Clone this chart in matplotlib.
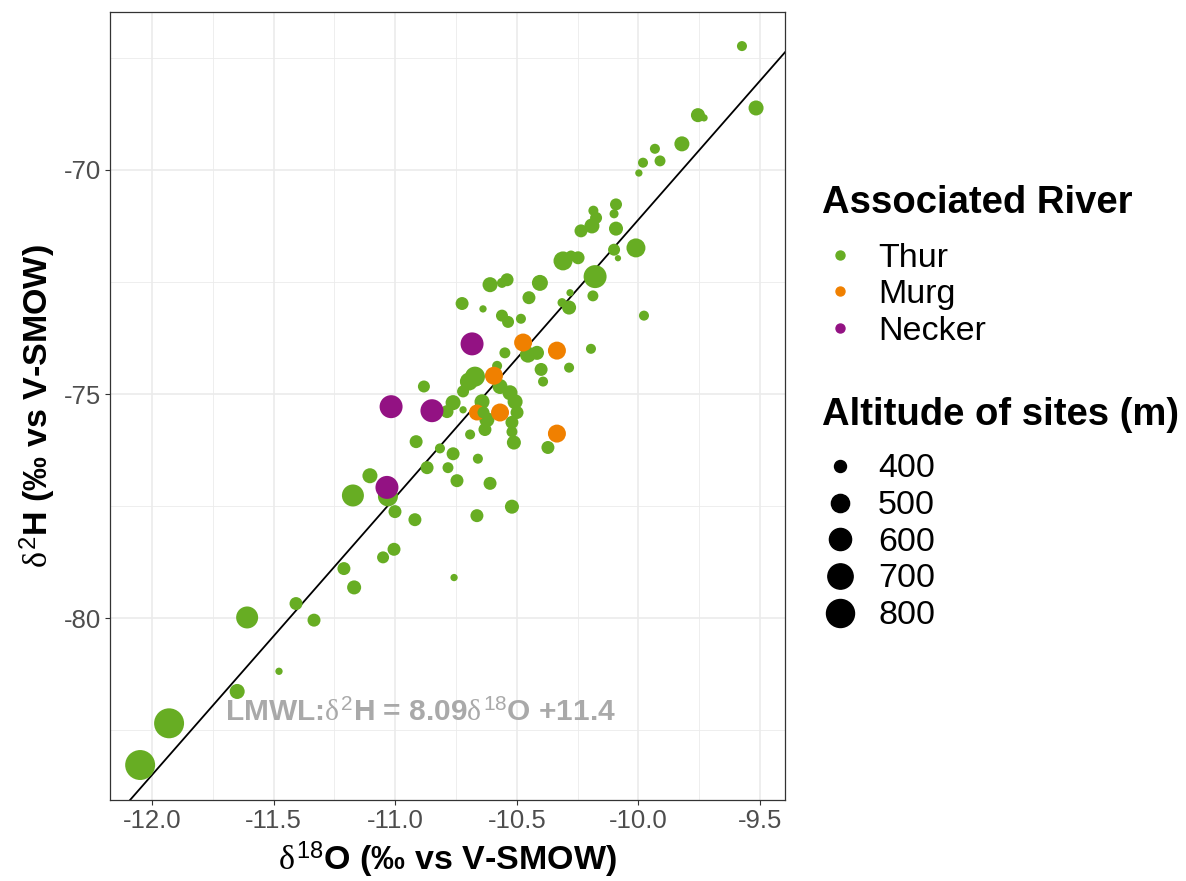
import numpy as np
import matplotlib
matplotlib.use("Agg")
import matplotlib.pyplot as plt
from matplotlib.lines import Line2D

plt.rcParams['font.family'] = ['Liberation Sans', 'DejaVu Sans']
plt.rcParams['axes.unicode_minus'] = False
plt.rcParams['mathtext.fontset'] = 'custom'
plt.rcParams['mathtext.rm'] = 'Liberation Sans'
plt.rcParams['mathtext.it'] = 'Liberation Serif'
plt.rcParams['mathtext.bf'] = 'Liberation Sans:bold'

# isotope data per site: d18O, d2H (permil vs V-SMOW), altitude (m)
thur_d18O = [-9.574, -9.516, -9.755, -9.730, -9.932, -9.821, -9.981, -9.911, -9.998, -10.092,
             -10.100, -10.185, -10.174, -10.191, -10.236, -10.092, -10.010, -10.100, -10.084, -10.310,
             -10.277, -10.248, -10.178, -10.187, -10.405, -10.540, -10.561, -10.610, -10.450, -10.281,
             -10.314, -10.285, -10.725, -10.639, -10.561, -10.536, -10.483, -9.977, -10.195, -10.549,
             -10.454, -10.417, -10.400, -10.392, -10.285, -10.581, -10.672, -10.697, -10.569, -10.882,
             -10.721, -10.762, -10.787, -10.721, -10.643, -10.528, -10.507, -10.499, -10.520, -10.623,
             -10.631, -10.520, -10.512, -10.692, -10.816, -10.762, -10.660, -10.372, -10.914, -10.869,
             -10.783, -10.746, -10.610, -10.520, -10.664, -11.104, -11.174, -11.030, -11.001, -10.919,
             -11.005, -11.050, -11.211, -11.169, -11.408, -11.334, -11.609, -11.478, -11.650, -11.930,
             -12.049, -10.758]
thur_d2H = [-67.24, -68.62, -68.78, -68.84, -69.53, -69.42, -69.84, -69.80, -70.07, -70.77,
            -70.98, -70.91, -71.07, -71.25, -71.36, -71.31, -71.74, -71.78, -71.97, -72.03,
            -71.92, -71.96, -72.38, -72.81, -72.52, -72.45, -72.52, -72.56, -72.85, -72.74,
            -72.96, -73.07, -72.98, -73.10, -73.25, -73.39, -73.32, -73.25, -73.99, -74.08,
            -74.12, -74.08, -74.45, -74.72, -74.41, -74.37, -74.61, -74.72, -74.83, -74.83,
            -74.94, -75.19, -75.39, -75.35, -75.17, -74.97, -75.17, -75.41, -75.63, -75.57,
            -75.79, -75.84, -76.08, -75.90, -76.21, -76.33, -76.44, -76.19, -76.06, -76.64,
            -76.64, -76.93, -76.99, -77.51, -77.71, -76.82, -77.26, -77.28, -77.62, -77.80,
            -78.46, -78.64, -78.89, -79.31, -79.67, -80.04, -79.98, -81.18, -81.63, -82.34,
            -83.27, -79.09]
thur_alt = [383, 440, 425, 371, 383, 440, 383, 390, 371, 400,
            377, 383, 400, 440, 411, 425, 517, 400, 370, 517,
            390, 411, 624, 390, 456, 411, 383, 440, 411, 371,
            377, 425, 411, 371, 400, 400, 383, 383, 383, 390,
            456, 425, 411, 383, 383, 383, 541, 495, 440, 400,
            400, 440, 411, 371, 440, 440, 440, 411, 411, 440,
            411, 390, 425, 383, 383, 411, 383, 411, 411, 411,
            390, 411, 411, 425, 411, 440, 595, 541, 411, 411,
            411, 400, 411, 425, 411, 411, 595, 371, 440, 880,
            880, 371]

murg_d18O = [-10.474, -10.335, -10.594, -10.664, -10.569, -10.335]
murg_d2H = [-73.85, -74.03, -74.59, -75.41, -75.41, -75.88]
murg_alt = [495, 495, 495, 456, 495, 495]

# one Thur site sampled after the Murg sites
late_thur_d18O = [-10.639]
late_thur_d2H = [-75.39]
late_thur_alt = [400]

necker_d18O = [-10.684, -11.017, -10.849, -11.034]
necker_d2H = [-73.88, -75.28, -75.37, -77.08]
necker_alt = [624, 624, 624, 624]

rivers = ['Thur', 'Murg', 'Necker']
river_colors = {'Thur': '#67AD23', 'Murg': '#F08000', 'Necker': '#931283'}
size_breaks = [400, 500, 600, 700, 800]

# regression line through the samples
fit_slope = 6.19
fit_intercept = -9.21
lmwl_label = r'LMWL:$\delta^{2}$H = 8.09$\delta^{18}$O +11.4'

W, H, DPI = 1186, 881, 100


def dot_px(alt):
    return 6.25 + 1.05 * np.sqrt(np.maximum(np.asarray(alt, dtype=float) - 370, 0))


def dot_area(alt):
    return (dot_px(alt) * 72 / DPI) ** 2


def fx(px):
    return px / W


def fy(py):
    return 1 - py / H


fig = plt.figure(figsize=(W / DPI, H / DPI), dpi=DPI)
ax = fig.add_axes([fx(110), fy(800), 675 / W, 788 / H])

groups = [
    (thur_d18O, thur_d2H, thur_alt, 'Thur'),
    (murg_d18O, murg_d2H, murg_alt, 'Murg'),
    (late_thur_d18O, late_thur_d2H, late_thur_alt, 'Thur'),
    (necker_d18O, necker_d2H, necker_alt, 'Necker'),
]
for z, (xs, ys, alts, r) in enumerate(groups):
    ax.scatter(xs, ys, s=dot_area(alts), color=river_colors[r], linewidths=0, zorder=3 + z * 0.1)

ax.set_xlim(-12.173, -9.397)
ax.set_ylim(-84.05, -66.48)

xl = np.array(ax.get_xlim())
ax.plot(xl, fit_slope * xl + fit_intercept, color='black', lw=1.3, zorder=2.5)
ax.set_xlim(xl)

ax.text(-10.898, -82.29, lmwl_label, ha='center', va='baseline', color='#A9A9A9',
        fontsize=21.5, fontweight='bold', zorder=4)

ax.set_xticks([-12.0, -11.5, -11.0, -10.5, -10.0, -9.5])
ax.set_xticklabels(['-12.0', '-11.5', '-11.0', '-10.5', '-10.0', '-9.5'])
ax.set_xticks([-11.75, -11.25, -10.75, -10.25, -9.75], minor=True)
ax.set_yticks([-80, -75, -70])
ax.set_yticklabels(['-80', '-75', '-70'])
ax.set_yticks([-82.5, -77.5, -72.5, -67.5], minor=True)
ax.grid(True, which='major', color='#EBEBEB', lw=1.2, zorder=0)
ax.grid(True, which='minor', color='#EBEBEB', lw=0.6, zorder=0)
ax.set_axisbelow(True)
ax.tick_params(which='major', length=3.5, width=0.8, color='#333333', labelsize=18.5,
               labelcolor='#4D4D4D', pad=3)
ax.tick_params(which='minor', length=0)
for sp in ax.spines.values():
    sp.set_color('#333333')
    sp.set_linewidth(0.9)

fig.text(fx(447.5), fy(860), r'$\delta^{18}$O (‰ vs V-SMOW)', ha='center', va='center',
         fontsize=24.5, fontweight='bold')
fig.text(fx(38), fy(406), r'$\delta^{2}$H (‰ vs V-SMOW)', ha='center', va='center',
         rotation=90, fontsize=24.5, fontweight='bold')

# colour legend
fig.text(fx(822), fy(213), 'Associated River', fontsize=27.5, fontweight='bold', va='baseline')
for i, r in enumerate(rivers):
    yb = 266.7 + i * 36.7
    fig.add_artist(Line2D([fx(840)], [fy(yb - 12)], marker='o', ms=9 * 72 / DPI,
                          color=river_colors[r], lw=0, transform=fig.transFigure))
    fig.text(fx(878), fy(yb), r, fontsize=24.5, va='baseline')

# size legend
fig.text(fx(822), fy(425), 'Altitude of sites (m)', fontsize=27.5, fontweight='bold', va='baseline')
for i, b in enumerate(size_breaks):
    yb = 477.3 + i * 36.7
    fig.add_artist(Line2D([fx(840)], [fy(yb - 11.5)], marker='o', ms=float(dot_px(b)) * 72 / DPI,
                          color='black', lw=0, transform=fig.transFigure))
    fig.text(fx(878), fy(yb), str(b), fontsize=24.5, va='baseline')

fig.savefig('out.png', dpi=DPI)
